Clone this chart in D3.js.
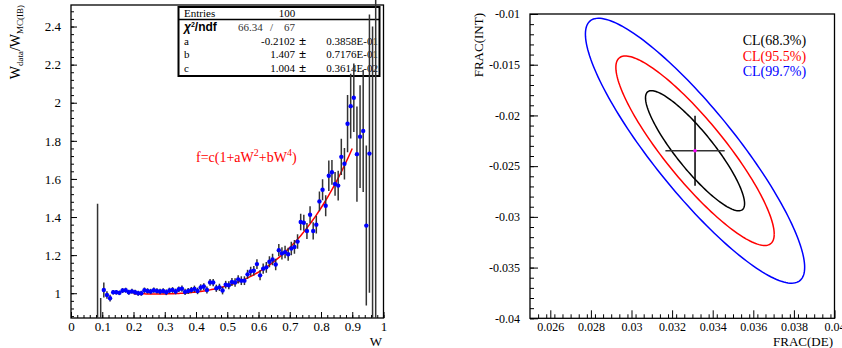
<!DOCTYPE html>
<html>
<head>
<meta charset="utf-8">
<script src="https://cdn.jsdelivr.net/npm/d3@7"></script>
<style>
body { margin: 0; background: #fff; }
svg { font-family: "Liberation Serif", "Times New Roman", serif; }
</style>
</head>
<body>
<svg id="chart" width="842" height="348"></svg>
<script>
// left panel: ratio histogram, bins of 0.01
var binW = [0.085, 0.095, 0.105, 0.115, 0.125, 0.135, 0.145, 0.155, 0.165, 0.175,
  0.185, 0.195, 0.205, 0.215, 0.225, 0.235, 0.245, 0.255, 0.265, 0.275,
  0.285, 0.295, 0.305, 0.315, 0.325, 0.335, 0.345, 0.355, 0.365, 0.375,
  0.385, 0.395, 0.405, 0.415, 0.425, 0.435, 0.445, 0.455, 0.465, 0.475,
  0.485, 0.495, 0.505, 0.515, 0.525, 0.535, 0.545, 0.555, 0.565, 0.575,
  0.585, 0.595, 0.605, 0.615, 0.625, 0.635, 0.645, 0.655, 0.665, 0.675,
  0.685, 0.695, 0.705, 0.715, 0.725, 0.735, 0.745, 0.755, 0.765, 0.775,
  0.785, 0.795, 0.805, 0.815, 0.825, 0.835, 0.845, 0.855, 0.865, 0.875,
  0.885, 0.895, 0.905, 0.915, 0.925, 0.935, 0.945, 0.955, 0.965, 0.975]
var ratio = [0.70, 0.60, 1.017, 0.991, 0.974, 1.005, 1.005, 1.002, 1.014, 1.016,
  1.005, 1.010, 1.005, 1.000, 1.000, 1.016, 1.012, 1.009, 1.016, 1.012,
  1.009, 1.012, 1.005, 1.014, 1.017, 1.009, 1.021, 1.024, 1.007, 1.012,
  1.017, 1.023, 1.012, 1.030, 1.035, 1.017, 1.057, 1.056, 1.026, 1.031,
  1.014, 1.045, 1.042, 1.059, 1.056, 1.073, 1.066, 1.066, 1.099, 1.115,
  1.118, 1.153, 1.094, 1.129, 1.136, 1.165, 1.177, 1.151, 1.226, 1.209,
  1.216, 1.205, 1.235, 1.243, 1.271, 1.374, 1.370, 1.327, 1.412, 1.327,
  1.360, 1.482, 1.543, 1.459, 1.617, 1.635, 1.574, 1.565, 1.716, 1.680,
  1.890, 1.982, 2.026, 1.730, 1.822, 1.852, 1.355, 1.733, 0.50, 0.30]
var ratioErr = [0.77, 0.375, 0.040, 0.020, 0.018, 0.012, 0.012, 0.012, 0.013, 0.013,
  0.013, 0.013, 0.013, 0.013, 0.013, 0.014, 0.014, 0.014, 0.014, 0.014,
  0.014, 0.014, 0.015, 0.015, 0.015, 0.015, 0.015, 0.016, 0.016, 0.016,
  0.016, 0.017, 0.017, 0.017, 0.018, 0.018, 0.018, 0.019, 0.019, 0.019,
  0.020, 0.020, 0.021, 0.021, 0.022, 0.022, 0.023, 0.023, 0.024, 0.024,
  0.025, 0.026, 0.026, 0.027, 0.028, 0.029, 0.030, 0.030, 0.032, 0.032,
  0.033, 0.034, 0.035, 0.036, 0.038, 0.043, 0.042, 0.042, 0.045, 0.045,
  0.047, 0.052, 0.055, 0.055, 0.080, 0.065, 0.062, 0.078, 0.095, 0.083,
  0.150, 0.170, 0.180, 0.250, 0.270, 0.320, 0.420, 0.730, 1.90, 2.50]
var fitPar = { a: -0.2102, b: 1.407, c: 1.004 }
var fitRange = [0.2, 0.9]
var xTicksL = [0, 0.1, 0.2, 0.3, 0.4, 0.5, 0.6, 0.7, 0.8, 0.9, 1]
var yTicksL = [1, 1.2, 1.4, 1.6, 1.8, 2, 2.2, 2.4]

// stats box rows
var statRows = [
  ["a", "-0.2102", "0.3858E-01"],
  ["b", "1.407", "0.7176E-01"],
  ["c", "1.004", "0.3614E-02"]
]

// right panel: confidence contours
var center = [0.03313, -0.02348]
var centerErr = [0.00146, 0.00345]
var clLabels = ["CL(68.3%)", "CL(95.5%)", "CL(99.7%)"]
var clColors = ["#000000", "#ff0000", "#0000ff"]
var clHalfX = [0.00244, 0.00390, 0.00540]
var clHalfY = [0.00592, 0.00934, 0.01306]
var corr = -0.88
var xTicksR = [0.026, 0.028, 0.03, 0.032, 0.034, 0.036, 0.038, 0.04]
var yTicksR = [-0.04, -0.035, -0.03, -0.025, -0.02, -0.015, -0.01]

var svg = d3.select("#chart")

function range(a, b, step) {
  var out = []
  for (var v = a; v <= b + step * 1e-6; v += step) out.push(+v.toFixed(6))
  return out
}

// ---------- left panel ----------
var x = d3.scaleLinear().domain([0, 1]).range([71, 383.5])
var y = d3.scaleLinear().domain([0.87, 2.513]).range([318, 5])

// stats box first, data lines run over it
var box = svg.append("g")
box.append("rect")
  .attr("x", 178.5).attr("y", 7).attr("width", 201).attr("height", 69)
  .attr("fill", "#fff").attr("stroke", "#000").attr("stroke-width", 2)
box.append("line")
  .attr("x1", 178.5).attr("x2", 379.5).attr("y1", 19.5).attr("y2", 19.5)
  .attr("stroke", "#000").attr("stroke-width", 1.5)
box.append("text").attr("x", 184).attr("y", 16.5).attr("font-size", 11).text("Entries")
box.append("text").attr("x", 287).attr("y", 16.5).attr("font-size", 11)
  .attr("text-anchor", "middle").text(binW.length + 10)
var chi = box.append("text").attr("x", 184).attr("y", 30.5)
  .attr("font-size", 12).attr("font-weight", "bold")
  .attr("font-family", "Liberation Sans, Arial, sans-serif")
chi.append("tspan").attr("font-style", "italic").text("χ")
chi.append("tspan").attr("dy", -4).attr("font-size", 7).text("2")
chi.append("tspan").attr("dy", 4).text("/ndf")
box.append("text").attr("x", 238).attr("y", 30.5).attr("font-size", 11).attr("fill", "#333").text("66.34")
box.append("text").attr("x", 270).attr("y", 30.5).attr("font-size", 11).attr("fill", "#333").text("/")
box.append("text").attr("x", 284).attr("y", 30.5).attr("font-size", 11).attr("fill", "#333").text("67")
statRows.forEach(function (r, i) {
  var yy = 44.5 + i * 13.6
  box.append("text").attr("x", 184).attr("y", yy).attr("font-size", 11).text(r[0])
  box.append("text").attr("x", 295).attr("y", yy).attr("font-size", 11)
    .attr("text-anchor", "end").text(r[1])
  box.append("text").attr("x", 302.5).attr("y", yy).attr("font-size", 13)
    .attr("font-weight", "bold").attr("text-anchor", "middle").text("±")
  box.append("text").attr("x", 378).attr("y", yy).attr("font-size", 11)
    .attr("text-anchor", "end").text(r[2])
})

// axes (ticks inside the frame)
svg.append("g").attr("transform", "translate(0,318)")
  .call(d3.axisBottom(x).tickValues(range(0, 1, 0.02)).tickSize(-3).tickFormat(""))
  .call(g => g.select(".domain").remove())
svg.append("g").attr("transform", "translate(0,318)")
  .call(d3.axisBottom(x).tickValues(xTicksL).tickSize(-6).tickPadding(4).tickFormat(d3.format("~g")))
  .call(g => g.select(".domain").remove())
svg.append("g").attr("transform", "translate(71,0)")
  .call(d3.axisLeft(y).tickValues(range(0.88, 2.48, 0.04)).tickSize(-3).tickFormat(""))
  .call(g => g.select(".domain").remove())
svg.append("g").attr("transform", "translate(71,0)")
  .call(d3.axisLeft(y).tickValues(yTicksL).tickSize(-6).tickPadding(10).tickFormat(d3.format("~g")))
  .call(g => g.select(".domain").remove())
svg.selectAll(".tick text").attr("font-size", 13).attr("font-family", "Liberation Serif, serif").attr("fill", "#000")
svg.selectAll(".tick line").attr("stroke", "#000")

svg.append("rect")
  .attr("x", 71).attr("y", 5).attr("width", 312.5).attr("height", 313)
  .attr("fill", "none").attr("stroke", "#000").attr("stroke-width", 1.3)

svg.append("defs").append("clipPath").attr("id", "clipL")
  .append("rect").attr("x", 71).attr("y", 0).attr("width", 312.5).attr("height", 318)

var plot = svg.append("g").attr("clip-path", "url(#clipL)")

// fit function
var fitW = d3.range(fitRange[0], fitRange[1] + 0.0001, 0.005)
var f = function (w) { return fitPar.c * (1 + fitPar.a * w * w + fitPar.b * Math.pow(w, 4)) }
plot.append("path")
  .datum(fitW)
  .attr("fill", "none").attr("stroke", "#ff0000").attr("stroke-width", 1.5)
  .attr("d", d3.line().x(d => x(d)).y(d => y(f(d))))

plot.selectAll(".err")
  .data(binW)
  .enter().append("line")
  .attr("x1", d => x(d)).attr("x2", d => x(d))
  .attr("y1", (d, i) => y(ratio[i] - ratioErr[i]))
  .attr("y2", (d, i) => y(ratio[i] + ratioErr[i]))
  .attr("stroke", "#333").attr("stroke-width", 1.5)

plot.selectAll(".dot")
  .data(binW)
  .enter().append("circle")
  .attr("cx", d => x(d))
  .attr("cy", (d, i) => y(ratio[i]))
  .attr("r", 2.2)
  .attr("fill", "#0000ff")

var ft = svg.append("text").attr("x", 196).attr("y", 162).attr("font-size", 14).attr("fill", "#ff0000")
ft.append("tspan").text("f=c(1+aW")
ft.append("tspan").attr("dy", -6).attr("font-size", 10).text("2")
ft.append("tspan").attr("dy", 6).text("+bW")
ft.append("tspan").attr("dy", -6).attr("font-size", 10).text("4")
ft.append("tspan").attr("dy", 6).text(")")

svg.append("text").attr("x", 376).attr("y", 346).attr("font-size", 13)
  .attr("text-anchor", "middle").text("W")

var yl = svg.append("text").attr("transform", "translate(20,5) rotate(-90)")
  .attr("text-anchor", "end").attr("font-size", 14)
yl.append("tspan").text("W")
yl.append("tspan").attr("dy", 3).attr("font-size", 9).text("data")
yl.append("tspan").attr("dy", -3).text("/W")
yl.append("tspan").attr("dy", 3).attr("font-size", 9).text("MC(IB)")

// ---------- right panel ----------
var x2 = d3.scaleLinear().domain([0.025, 0.04]).range([530, 834.5])
var y2 = d3.scaleLinear().domain([-0.04, -0.01]).range([318.3, 14])

var right = svg.append("g").attr("class", "rightAxes")
right.append("g").attr("transform", "translate(0,318.3)")
  .call(d3.axisBottom(x2).tickValues(range(0.0254, 0.04, 0.0004)).tickSize(-4).tickFormat(""))
  .call(g => g.select(".domain").remove())
right.append("g").attr("transform", "translate(0,318.3)")
  .call(d3.axisBottom(x2).tickValues(xTicksR).tickSize(-8).tickPadding(4).tickFormat(d3.format("~g")))
  .call(g => g.select(".domain").remove())
right.append("g").attr("transform", "translate(530,0)")
  .call(d3.axisLeft(y2).tickValues(range(-0.04, -0.01, 0.001)).tickSize(-4).tickFormat(""))
  .call(g => g.select(".domain").remove())
right.append("g").attr("transform", "translate(530,0)")
  .call(d3.axisLeft(y2).tickValues(yTicksR).tickSize(-8).tickPadding(10).tickFormat(d => d3.format("~g")(d).replace("−", "-")))
  .call(g => g.select(".domain").remove())
right.selectAll(".tick text").attr("font-size", 12).attr("font-family", "Liberation Serif, serif").attr("fill", "#000")
right.selectAll(".tick line").attr("stroke", "#000")

svg.append("rect")
  .attr("x", 530).attr("y", 14).attr("width", 304.5).attr("height", 304.3)
  .attr("fill", "none").attr("stroke", "#000").attr("stroke-width", 1.3)

var tt = d3.range(0, 2 * Math.PI + 0.01, Math.PI / 90)
clLabels.forEach(function (lab, i) {
  var pts = tt.map(function (t) {
    return [center[0] + clHalfX[i] * Math.cos(t),
      center[1] + clHalfY[i] * (corr * Math.cos(t) + Math.sqrt(1 - corr * corr) * Math.sin(t))]
  })
  svg.append("path").datum(pts)
    .attr("fill", "none").attr("stroke", clColors[i]).attr("stroke-width", 1.5)
    .attr("d", d3.line().x(d => x2(d[0])).y(d => y2(d[1])))
  svg.append("text").attr("x", 742.7).attr("y", 45 + i * 15.5)
    .attr("font-size", 14).attr("fill", clColors[i]).text(lab)
})

svg.append("line")
  .attr("x1", x2(center[0] - centerErr[0])).attr("x2", x2(center[0] + centerErr[0]))
  .attr("y1", y2(center[1])).attr("y2", y2(center[1]))
  .attr("stroke", "#333").attr("stroke-width", 1.5)
svg.append("line")
  .attr("x1", x2(center[0])).attr("x2", x2(center[0]))
  .attr("y1", y2(center[1] - centerErr[1])).attr("y2", y2(center[1] + centerErr[1]))
  .attr("stroke", "#000").attr("stroke-width", 1.5)
svg.append("circle").attr("cx", x2(center[0])).attr("cy", y2(center[1]))
  .attr("r", 1.8).attr("fill", "#ff00ff")

svg.append("text").attr("x", 833).attr("y", 346).attr("font-size", 13)
  .attr("text-anchor", "end").text("FRAC(DE)")
svg.append("text").attr("transform", "translate(483,13) rotate(-90)")
  .attr("text-anchor", "end").attr("font-size", 13).text("FRAC(INT)")
</script>
</body>
</html>
